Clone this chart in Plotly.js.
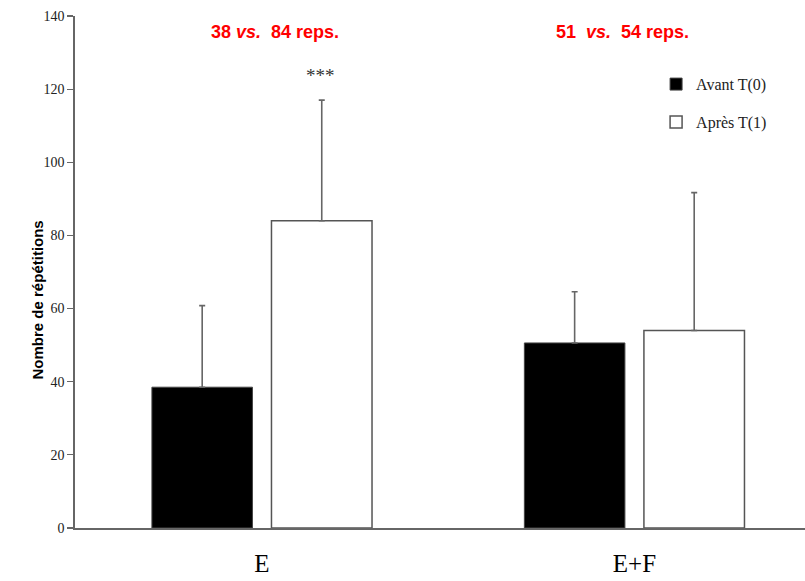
<!DOCTYPE html>
<html><head><meta charset="utf-8">
<script src="https://cdn.plot.ly/plotly-3.0.1.min.js"></script>
<style>html,body{margin:0;padding:0;background:#fff}#chart{width:805px;height:581px}</style>
</head><body><div id="chart"></div>
<script>
const categories = ["E", "E+F"];
const seriesNames = ["Avant T(0)", "Après T(1)"];
const avantValues = [38.5, 50.6];
const avantErrors = [22.3, 14.0];
const apresValues = [84, 54];
const apresErrors = [33, 37.7];
const yTicks = [0, 20, 40, 60, 80, 100, 120, 140];
const groupLabels = ["38 <i>vs.</i>  84 reps.", "51  <i>vs.</i>  54 reps."];
const signif = ["***", ""];

const errStyle = {color: "#666", thickness: 1.6, width: 3};
const traces = [
  {type: "bar", name: seriesNames[0], x: categories, y: avantValues, legendgroup: "a",
   marker: {color: "#000", line: {color: "#444", width: 1}},
   error_y: Object.assign({type: "data", symmetric: false, array: avantErrors, arrayminus: [0, 0]}, errStyle)},
  {type: "bar", name: seriesNames[1], x: categories, y: apresValues, legendgroup: "b",
   marker: {color: "#fff", line: {color: "#555", width: 1.5}},
   error_y: Object.assign({type: "data", symmetric: false, array: apresErrors, arrayminus: [0, 0]}, errStyle)}
];

const labelShift = [13, -12];
const annotations = [];
categories.forEach((c, i) => {
  annotations.push({x: i, xref: "x", y: 0.969, yref: "paper", yanchor: "middle", text: groupLabels[i], showarrow: false,
    xshift: labelShift[i],
    font: {family: "Liberation Sans, Arial, sans-serif", size: 18, color: "#ff0000", weight: "bold"}});
  if (signif[i]) {
    annotations.push({x: i, xref: "x", y: 123.8, yref: "y", yanchor: "middle",
      xshift: 59, text: signif[i], showarrow: false,
      font: {family: "Liberation Serif, serif", size: 19, color: "#333"}});
  }
});
annotations.push({x: -0.066, xref: "paper", y: 0.445, yref: "paper", textangle: -90, showarrow: false,
  text: "<b>Nombre de répétitions</b>",
  font: {family: "Liberation Sans Narrow, Liberation Sans, sans-serif", size: 15, color: "#000"}});

const layout = {
  width: 805, height: 581,
  margin: {l: 75, r: 0, t: 16, b: 53},
  paper_bgcolor: "#fff", plot_bgcolor: "#fff",
  barmode: "group", bargap: 0.358, bargroupgap: 0.159,
  showlegend: true,
  legend: {x: 0.796, y: 0.90, xanchor: "left", yanchor: "top", bgcolor: "rgba(0,0,0,0)",
    tracegroupgap: 14, itemwidth: 30,
    font: {family: "Liberation Serif, serif", size: 16, color: "#222"}},
  xaxis: {type: "category", range: [-0.502, 1.458], showline: true, linecolor: "#666", linewidth: 1.6,
    ticks: "", showgrid: false, zeroline: false, ticklabelstandoff: 12,
    tickfont: {family: "Liberation Serif, serif", size: 25, color: "#000"}},
  yaxis: {range: [0, 140], tickvals: yTicks, showline: true, linecolor: "#666", linewidth: 1.6,
    ticks: "outside", ticklen: 6, tickcolor: "#666", tickwidth: 1.2, showgrid: false, zeroline: false,
    tickfont: {family: "Liberation Serif, serif", size: 14, color: "#222"}},
  annotations: annotations
};
Plotly.newPlot("chart", traces, layout, {displayModeBar: false, staticPlot: true});
</script></body></html>
